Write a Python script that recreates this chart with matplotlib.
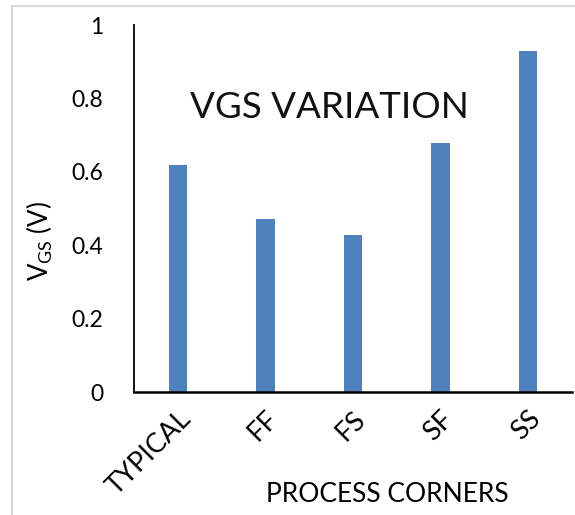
import matplotlib
matplotlib.use("Agg")
import matplotlib.pyplot as plt
from matplotlib.lines import Line2D

corners = ["TYPICAL", "FF", "FS", "SF", "SS"]
vgs = [0.619, 0.473, 0.427, 0.678, 0.930]
yticks = [0, 0.2, 0.4, 0.6, 0.8, 1]
ytick_labels = ["0", "0.2", "0.4", "0.6", "0.8", "1"]

plt.rcParams['font.family'] = ['Lato', 'DejaVu Sans']

W, H = 575, 515
fig = plt.figure(figsize=(W / 100, H / 100), dpi=100)
# axes box in pixels: left 134, right 572, bottom 392, top 25
ax = fig.add_axes([134 / W, 1 - 392.3 / H, (572 - 134) / W, (392.3 - 25) / H])

x = range(len(corners))
ax.bar(x, vgs, width=0.21, color="#4f81bd", zorder=2)

ax.set_xlim(-0.5, len(corners) - 0.5)
ax.set_ylim(0, 1)
ax.set_yticks(yticks)
ax.set_yticklabels(ytick_labels, fontsize=16.5)
ax.set_xticks(list(x))
ax.set_xticklabels(corners, fontsize=19.5, rotation=45, ha='right',
                   rotation_mode='anchor')
ax.tick_params(axis='y', length=0, pad=22)
ax.tick_params(axis='x', length=0, pad=10)

for s in ["top", "right"]:
    ax.spines[s].set_visible(False)
ax.spines["left"].set_linewidth(1.3)
ax.spines["bottom"].set_linewidth(1.8)

ax.text(0.447, 0.775, "VGS VARIATION", transform=ax.transAxes,
        fontsize=26.5, ha='center', va='center', color='#111111')

fig.text(387 / W, 1 - 494 / H, "PROCESS CORNERS", fontsize=19,
         ha='center', va='center')
fig.text(40 / W, 1 - 241 / H, r"V$_{\mathregular{GS}}$ (V)", fontsize=18.5,
         rotation=90, ha='center', va='center')

# light grey frame lines on top and left
fig.add_artist(Line2D([12 / W, 1], [1 - 5.5 / H, 1 - 5.5 / H],
                      transform=fig.transFigure, color="#d9d9d9", lw=1.5))
fig.add_artist(Line2D([12 / W, 12 / W], [0, 1 - 5.5 / H],
                      transform=fig.transFigure, color="#d9d9d9", lw=1.5))

fig.savefig("out.png", dpi=100)
